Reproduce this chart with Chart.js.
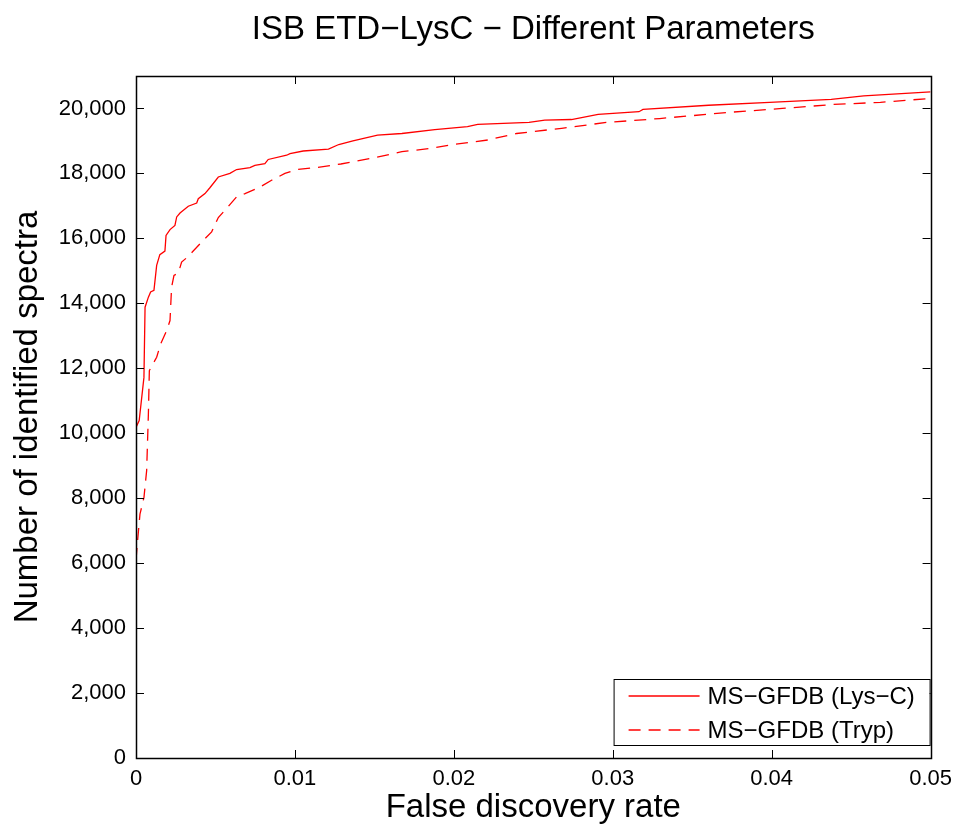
<!DOCTYPE html>
<html>
<head>
<meta charset="utf-8">
<title>ISB ETD-LysC - Different Parameters</title>
<script src="https://cdn.jsdelivr.net/npm/chart.js@4.4.1/dist/chart.umd.min.js"></script>
<style>
  html, body { margin: 0; padding: 0; background: #fff; }
  #wrap { width: 960px; height: 828px; }
</style>
</head>
<body>
<div id="wrap"><canvas id="fdrChart" width="960" height="828"></canvas></div>
<script>
// values
var lysFdr = [0, 0.0002, 0.0005, 0.00057, 0.00078, 0.00092, 0.00113, 0.0013, 0.0015, 0.00182,
    0.00189, 0.00214, 0.00245, 0.00256, 0.00277, 0.00329, 0.00382, 0.00392, 0.00434, 0.00465,
    0.00518, 0.00591, 0.00633, 0.00717, 0.00748, 0.00811, 0.00832, 0.00948, 0.00969, 0.01052,
    0.01211, 0.01276, 0.01365, 0.0152, 0.01673, 0.0188, 0.02086, 0.0215, 0.02473, 0.02572,
    0.0274, 0.02908, 0.03165, 0.0319, 0.03603, 0.03987, 0.04375, 0.04579, 0.05];
var lysCount = [10180, 10390, 11720, 13880, 14190, 14350, 14400, 15170, 15500, 15610,
    16090, 16270, 16400, 16660, 16780, 16990, 17090, 17220, 17380, 17560,
    17890, 18000, 18120, 18180, 18250, 18300, 18430, 18560, 18610, 18690,
    18750, 18890, 19000, 19180, 19230, 19350, 19440, 19510, 19570, 19640,
    19660, 19820, 19900, 19970, 20100, 20190, 20280, 20390, 20510];

var trypFdr = [0, 0.0001, 0.00025, 0.0005, 0.00067, 0.00078, 0.00084, 0.0013, 0.00155, 0.00193,
    0.00214, 0.00224, 0.00239, 0.00266, 0.00287, 0.00323, 0.0036, 0.00423, 0.00476, 0.00518,
    0.0057, 0.00633, 0.00686, 0.0078, 0.00853, 0.00937, 0.0101, 0.01136, 0.01289, 0.01508,
    0.01673, 0.01855, 0.02007, 0.02214, 0.02395, 0.02678, 0.0296, 0.03295, 0.03732, 0.04067,
    0.04375, 0.04684, 0.05];
var trypCount = [6100, 6690, 7510, 8020, 8850, 10600, 11930, 12340, 12750, 13160,
    13470, 14500, 14860, 14930, 15270, 15420, 15610, 15940, 16200, 16640,
    16920, 17280, 17380, 17580, 17790, 18000, 18120, 18180, 18290, 18490,
    18670, 18770, 18900, 19030, 19230, 19390, 19570, 19690, 19880, 20000,
    20120, 20190, 20310];

var seriesNames = ['MS\u2212GFDB (Lys\u2212C)', 'MS\u2212GFDB (Tryp)'];
var chartTitle = 'ISB ETD\u2212LysC \u2212 Different Parameters';
var xTicks = [0, 0.01, 0.02, 0.03, 0.04, 0.05];
var yTicks = [0, 2000, 4000, 6000, 8000, 10000, 12000, 14000, 16000, 18000, 20000];

function toPoints(xs, ys) {
    return xs.map(function(x, i) { return { x: x, y: ys[i] }; });
}

var FONT = '"Liberation Sans", Arial, Helvetica, sans-serif';
Chart.defaults.font.family = FONT;
Chart.defaults.color = '#000';

// title over the axes, box, inward ticks and the legend, matlab style
var boxPlugin = {
    id: 'boxPlugin',
    afterDraw: function(chart) {
        var c = chart.ctx, a = chart.chartArea;
        var xs = chart.scales.x, ys = chart.scales.y;
        var len = 8;
        c.save();

        c.fillStyle = '#000';
        c.font = '33px ' + FONT;
        c.textAlign = 'center';
        c.textBaseline = 'middle';
        c.fillText(chartTitle, (a.left + a.right) / 2, 30);
        c.textAlign = 'left';

        c.strokeStyle = '#000';
        c.lineWidth = 1;
        c.beginPath();
        xTicks.forEach(function(v) {
            var px = Math.round(xs.getPixelForValue(v)) + 0.5;
            c.moveTo(px, a.bottom); c.lineTo(px, a.bottom - len);
            c.moveTo(px, a.top); c.lineTo(px, a.top + len);
        });
        yTicks.forEach(function(v) {
            var py = Math.round(ys.getPixelForValue(v)) + 0.5;
            c.moveTo(a.left, py); c.lineTo(a.left + len, py);
            c.moveTo(a.right, py); c.lineTo(a.right - len, py);
        });
        c.stroke();
        c.lineWidth = 1.5;
        c.strokeRect(Math.round(a.left) + 0.5, Math.round(a.top) + 0.5,
            Math.round(a.right - a.left), Math.round(a.bottom - a.top));

        // legend box in lower right corner
        var bw = 316, bh = 66;
        var bx = a.right - bw - 1, by = a.bottom - bh - 13;
        c.fillStyle = '#fff';
        c.fillRect(bx, by, bw, bh);
        c.lineWidth = 1;
        c.strokeRect(bx + 0.5, by + 0.5, bw, bh);
        c.font = '24px ' + FONT;
        c.textBaseline = 'middle';
        chart.data.datasets.forEach(function(ds, i) {
            var ly = by + 17 + i * 34;
            c.strokeStyle = ds.borderColor;
            c.lineWidth = ds.borderWidth;
            c.setLineDash(ds.borderDash || []);
            c.beginPath();
            c.moveTo(bx + 15, ly); c.lineTo(bx + 86, ly);
            c.stroke();
            c.setLineDash([]);
            c.fillStyle = '#000';
            c.fillText(ds.label, bx + 94, ly + 1);
        });
        c.restore();
    }
};

var ctx = document.getElementById('fdrChart').getContext('2d');
var fdrChart = new Chart(ctx, {
    type: 'line',
    data: {
        datasets: [{
            label: seriesNames[0],
            data: toPoints(lysFdr, lysCount),
            borderColor: '#ff0000',
            borderWidth: 1.3,
            pointRadius: 0,
            tension: 0
        }, {
            label: seriesNames[1],
            data: toPoints(trypFdr, trypCount),
            borderColor: '#ff0000',
            borderWidth: 1.3,
            borderDash: [12, 8],
            pointRadius: 0,
            tension: 0
        }]
    },
    options: {
        responsive: false,
        animation: false,
        layout: { padding: { left: 0, right: 29, top: 76, bottom: 0 } },
        plugins: {
            legend: { display: false },
            tooltip: { enabled: false },
            title: { display: false }
        },
        scales: {
            x: {
                type: 'linear',
                min: 0,
                max: 0.05,
                afterFit: function(s) { s.height = 70; },
                afterBuildTicks: function(s) { s.ticks = xTicks.map(function(v) { return { value: v }; }); },
                grid: { display: false, drawTicks: false },
                border: { display: false },
                ticks: {
                    padding: 8,
                    font: { size: 22 },
                    callback: function(v) { return v === 0 ? '0' : v.toFixed(2); }
                },
                title: {
                    display: true,
                    text: 'False discovery rate',
                    font: { size: 33 },
                    padding: { top: 0, bottom: 0 }
                }
            },
            y: {
                min: 0,
                max: 21000,
                afterFit: function(s) { s.width = 136; },
                afterBuildTicks: function(s) { s.ticks = yTicks.map(function(v) { return { value: v }; }); },
                grid: { display: false, drawTicks: false },
                border: { display: false },
                ticks: {
                    padding: 10,
                    font: { size: 22 },
                    callback: function(v) { return v.toLocaleString('en-US'); }
                },
                title: {
                    display: true,
                    text: 'Number of identified spectra',
                    font: { size: 33 },
                    padding: { top: 8, bottom: 0 }
                }
            }
        }
    },
    plugins: [boxPlugin]
});
</script>
</body>
</html>
